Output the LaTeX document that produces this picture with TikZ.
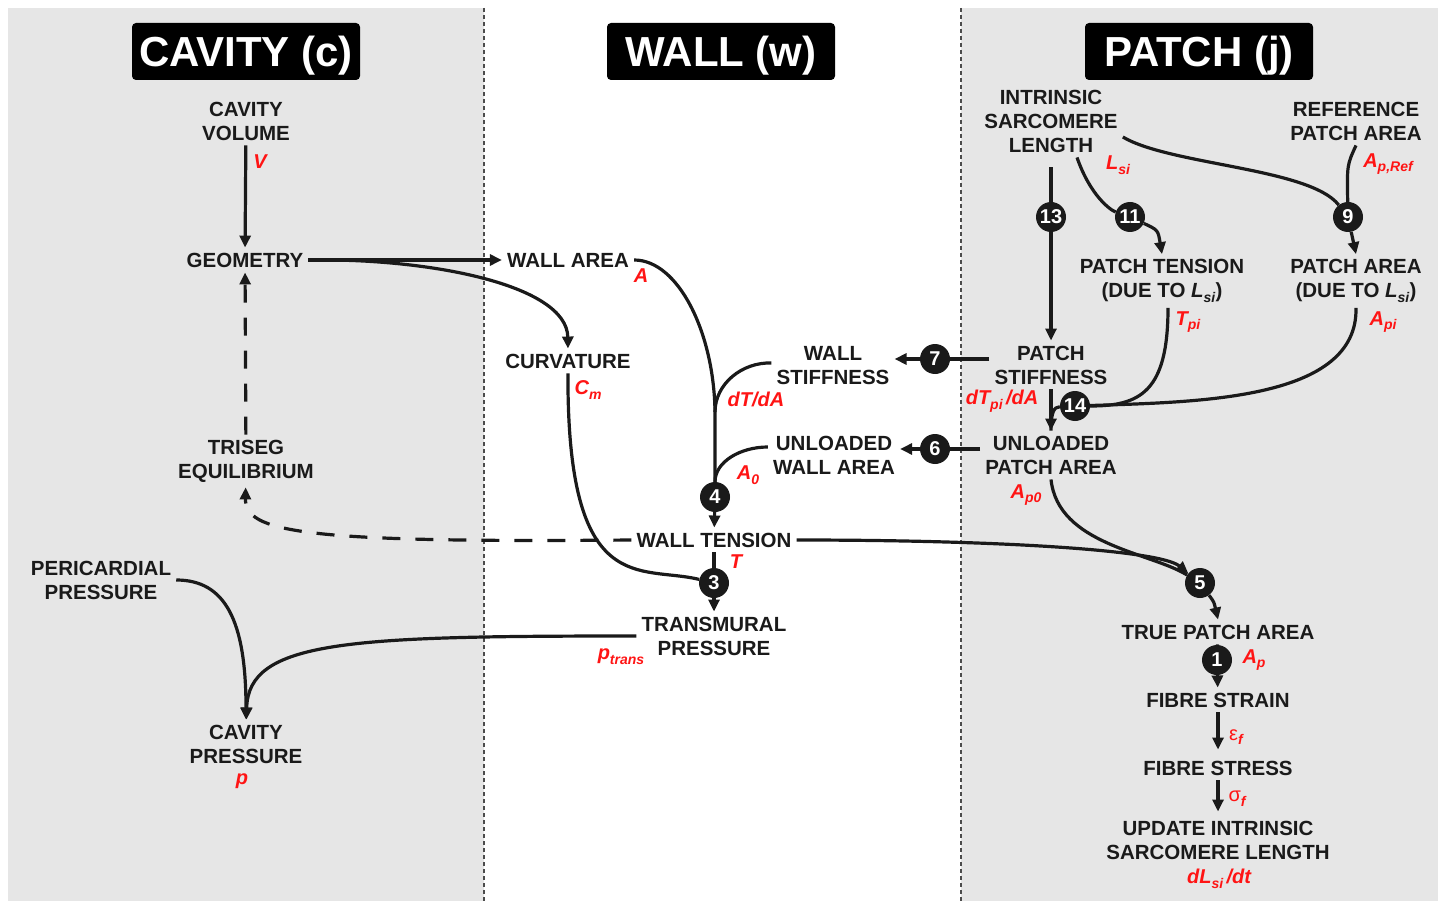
\documentclass[tikz,border=0pt]{standalone}
\usepackage{fontspec}
\setmainfont{Liberation Sans}
\usetikzlibrary{arrows.meta,positioning}
\definecolor{panelgray}{HTML}{E6E6E6}
\definecolor{ink}{HTML}{1A1A1A}
\definecolor{symbred}{HTML}{FF1414}
\newcommand{\subtxt}[1]{\raisebox{-0.45ex}{\fontsize{14}{14}\selectfont #1}}

\tikzset{
  header/.style={fill=black, text=white, rounded corners=4pt, minimum width=228pt,
    minimum height=57pt, inner sep=0pt, text height=40pt, text depth=10pt,
    font=\fontsize{42}{46}\selectfont\bfseries},
  quantity/.style={align=center, inner sep=5pt, text=ink,
    font=\fontsize{20.5}{24}\selectfont\bfseries},
  symb/.style={inner sep=0pt, text=symbred, font=\fontsize{20}{24}\selectfont\bfseries\itshape},
  greek/.style={inner sep=0pt, text=symbred, font=\fontsize{20}{24}\selectfont},
  numdot/.style={circle, fill=ink, text=white, minimum size=30pt, inner sep=0pt,
    font=\fontsize{20}{20}\selectfont\bfseries},
  link/.style={draw=ink, line width=3.2pt},
  flow/.style={link, -{Triangle[length=12pt,width=11pt]}},
  feedback/.style={flow, dash pattern=on 18pt off 15pt},
  divider/.style={draw=black!70, line width=1.3pt, dash pattern=on 4pt off 3pt},
}

\begin{document}
\begin{tikzpicture}[x=1pt,y=-1pt]
  \useasboundingbox (0,0) rectangle (1440,901);
  %draw panels of the three columns
  \fill[white] (0,0) rectangle (1440,901);
  \fill[panelgray] (8,8) rectangle (484,901);
  \fill[panelgray] (961,8) rectangle (1438,901);
  \draw[divider] (484,8) -- (484,901);
  \draw[divider] (961,8) -- (961,901);
  %insert column headers
  \node[header] (hcav) at (246,51.5) {CAVITY (c)};
  \node[header] (hwall) at (721,51.5) {WALL (w)};
  \node[header] (hpatch) at (1199,51.5) {PATCH (j)};

  %cavity column
  \node[quantity] (cvol) at (246,121) {CAVITY\\VOLUME};
  \node[quantity] (geom) at (245,260) {GEOMETRY};
  \node[quantity] (triseg) at (246,461) {TRISEG\\EQUILIBRIUM};
  \node[quantity] (peri) at (101,580) {PERICARDIAL\\PRESSURE};
  \node[quantity] (cpress) at (246,744) {CAVITY\\PRESSURE};

  %wall column
  \node[quantity] (warea) at (568,260) {WALL AREA};
  \node[quantity] (curv) at (568,361) {CURVATURE};
  \node[quantity] (wstiff) at (833,366) {WALL\\STIFFNESS};
  \node[quantity] (uwall) at (834,455) {UNLOADED\\WALL AREA};
  \node[quantity] (wten) at (714,540) {WALL TENSION};
  \node[quantity] (trans) at (714,636) {TRANSMURAL\\PRESSURE};

  %patch column
  \node[quantity] (isl) at (1051,121) {INTRINSIC\\SARCOMERE\\LENGTH};
  \node[quantity] (refpa) at (1356,121) {REFERENCE\\PATCH AREA};
  \node[quantity] (ptens) at (1162,281) {PATCH TENSION\\(DUE TO \textit{L}\subtxt{\textit{si}})};
  \node[quantity] (parea) at (1356,281) {PATCH AREA\\(DUE TO \textit{L}\subtxt{\textit{si}})};
  \node[quantity] (pstiff) at (1051,365) {PATCH\\STIFFNESS};
  \node[quantity] (upatch) at (1051,455) {UNLOADED\\PATCH AREA};
  \node[quantity] (tpatch) at (1218,632) {TRUE PATCH AREA};
  \node[quantity] (fstrain) at (1218,700) {FIBRE STRAIN};
  \node[quantity] (fstress) at (1218,768) {FIBRE STRESS};
  \node[quantity] (update) at (1218,840) {UPDATE INTRINSIC\\SARCOMERE LENGTH};

  %numbered steps
  \node[numdot] (c1) at (1217,660) {1};
  \node[numdot] (c3) at (714,583) {3};
  \node[numdot] (c4) at (715,497) {4};
  \node[numdot] (c5) at (1200,583) {5};
  \node[numdot] (c6) at (935,449) {6};
  \node[numdot] (c7) at (935,359) {7};
  \node[numdot] (c9) at (1348,217) {9};
  \node[numdot] (c11) at (1130,217) {11};
  \node[numdot] (c13) at (1051,217) {13};
  \node[numdot] (c14) at (1075,406) {14};
  \coordinate (join4) at (715,412);

  %insert symbols of the quantities
  \node[symb] (sV) at (260,162) {V};
  \node[symb] (sp) at (242,781) {p};
  \node[symb] (sA) at (641,276) {A};
  \node[symb] (sCm) at (588,390) {C\subtxt{m}};
  \node[symb] (sdTdA) at (756,399) {dT/dA};
  \node[symb] (sA0) at (748,475) {A\subtxt{0}};
  \node[symb] (sT) at (736,562) {T};
  \node[symb] (sptrans) at (621,657) {p\subtxt{trans}};
  \node[symb] (sLsi) at (1118,165) {L\subtxt{si}};
  \node[symb] (sApref) at (1388,164) {A\subtxt{p,Ref}};
  \node[symb] (sTpi) at (1188,322) {T\subtxt{pi}};
  \node[symb] (sApi) at (1383,322) {A\subtxt{pi}};
  \node[symb] (sdTpidA) at (1002,401) {dT\subtxt{pi}\,/dA};
  \node[symb] (sAp0) at (1026,495) {A\subtxt{p0}};
  \node[symb] (sAp) at (1254,660) {A\subtxt{p}};
  \node[greek] (sepsf) at (1236,737) {ε\subtxt{\bfseries\itshape f}};
  \node[greek] (ssigf) at (1237,799) {σ\subtxt{\bfseries\itshape f}};
  \node[symb] (sdLsi) at (1219,879) {dL\subtxt{si}\,/dt};

  %draw cavity connectors
  \draw[flow] (cvol) -- (geom);
  \draw[feedback] (triseg) -- (geom);
  \draw[feedback] (wten.west) .. controls (300,543) and (245,532) .. (triseg);
  \draw[flow] (trans.west) .. controls (350,636) and (248,640) .. (cpress);
  \draw[flow] (peri.east) .. controls (225,580) and (246,620) .. (cpress);

  %draw wall connectors
  \draw[flow] (geom) -- (warea);
  \draw[flow] (geom.east) .. controls (430,258) and (567,285) .. (curv.north);
  \draw[link] (warea.east) .. controls (678,260) and (714,332) .. (join4) -- (c4);
  \draw[link] ([yshift=3pt]wstiff.west) .. controls (742,362) and (715,384) .. (join4);
  \draw[link] ([yshift=8pt]uwall.west) .. controls (740,447) and (715,462) .. (c4);
  \draw[flow] (c4) -- (wten);
  \draw[link] (wten) -- (c3);
  \draw[link] (curv) .. controls (567,600) and (640,565) .. (c3);
  \draw[flow] (c3) -- (trans);

  %draw patch connectors
  \draw[link, shorten <=10pt] (isl) -- (c13);
  \draw[flow] (c13) -- (pstiff);
  \draw[link] ([xshift=26pt]isl.south) .. controls (1090,195) and (1110,210) .. (c11);
  \draw[flow] (c11) .. controls (1158,230) .. (ptens.north);
  \draw[link] ([yshift=-16pt]isl.east) .. controls (1170,165) and (1310,168) .. (c9);
  \draw[link] (refpa.south) .. controls (1347,165) .. (c9);
  \draw[flow] (c9) -- (parea.north);
  \draw[link] ([xshift=6pt]ptens.south) .. controls (1168,392) and (1140,406) .. (c14);
  \draw[link] (parea.south) .. controls (1358,400) and (1200,402) .. (c14);
  \draw[flow] (pstiff) -- (upatch);
  \draw[link] (c14) .. controls (1054,407) and (1051,412) .. (upatch.north);
  \draw[link] (pstiff.west |- c7) -- (c7);
  \draw[flow] (c7) -- (wstiff.east |- c7);
  \draw[link] (upatch.west |- c6) -- (c6);
  \draw[flow] (c6) -- (uwall.east |- c6);
  \draw[flow] (wten.east) .. controls (1000,540) and (1160,550) .. (c5);
  \draw[link] (upatch.south) .. controls (1058,545) and (1150,552) .. (c5);
  \draw[flow] (c5) .. controls (1214,602) .. (tpatch.north);
  \draw[link] (tpatch) -- (c1);
  \draw[flow] (c1) -- (fstrain);
  \draw[flow, shorten >=6pt] (fstrain) -- (fstress);
  \draw[flow, shorten >=4pt] (fstress) -- (update);
\end{tikzpicture}
\end{document}
